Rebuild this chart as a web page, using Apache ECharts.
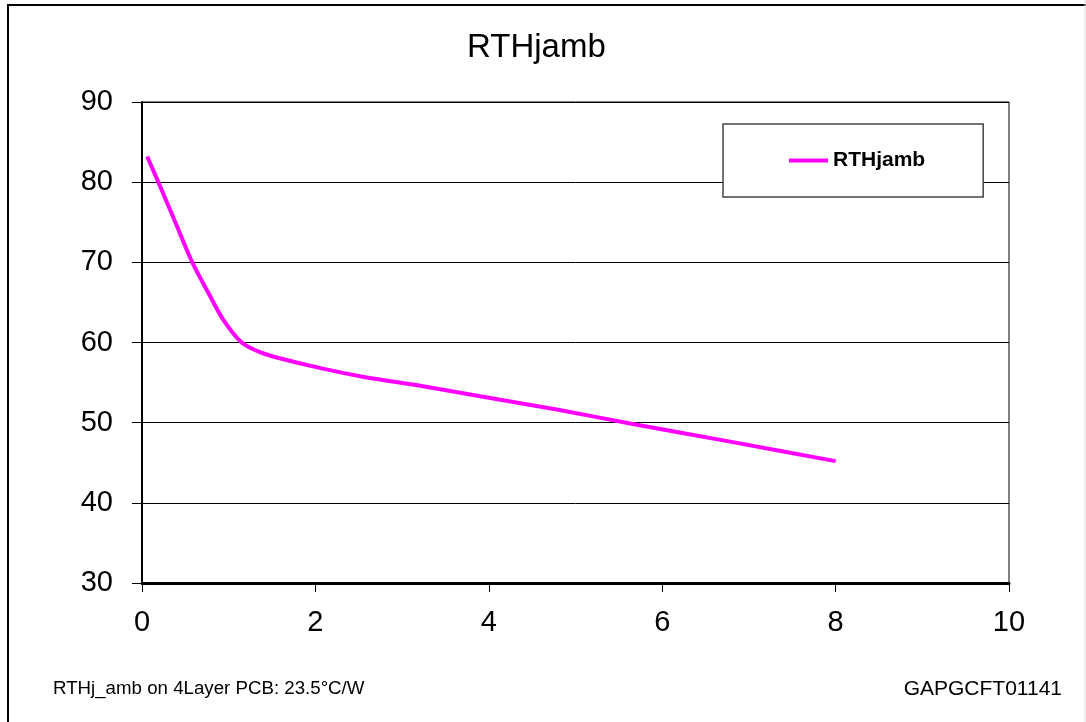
<!DOCTYPE html>
<html>
<head>
<meta charset="utf-8">
<script src="https://cdn.jsdelivr.net/npm/echarts@6/dist/echarts.min.js"></script>
<style>
    html, body { margin: 0; padding: 0; background: #fff; }
    #chart { width: 1086px; height: 722px; }
</style>
</head>
<body>
<div id="chart"></div>
<script>
    // values
    var seriesName = 'RTHjamb';
    var xValues = [0.06, 0.2, 0.4, 0.58, 0.79, 0.94, 1.15, 1.36, 1.6, 2.06, 2.56, 3.21, 3.9, 4.8, 5.63, 6.8, 8];
    var yValues = [83.2, 79.7, 74.6, 70, 65.7, 62.8, 60, 58.8, 58, 56.8, 55.7, 54.6, 53.3, 51.6, 49.9, 47.6, 45.2];
    var noteLeft = 'RTHj_amb on 4Layer PCB: 23.5°C/W';
    var noteRight = 'GAPGCFT01141';

    var chart = echarts.init(document.getElementById('chart'));

    var points = [];
    for (var i = 0; i < xValues.length; i++) {
        points.push([xValues[i], yValues[i]]);
    }

    var font = 'Liberation Sans, Arial, sans-serif';

    var option = {
        backgroundColor: '#fff',
        animation: false,
        title: {
            text: seriesName,
            left: 462,
            top: 26,
            textStyle: {
                fontFamily: font,
                fontSize: 33,
                fontWeight: 'normal',
                color: '#000'
            }
        },
        graphic: [
            {
                type: 'rect',
                shape: {x: 8, y: 5, width: 1200, height: 800},
                style: {fill: 'none', stroke: '#000', lineWidth: 2},
                silent: true
            },
            {
                type: 'line',
                shape: {x1: 1085, y1: 0, x2: 1085, y2: 722},
                style: {stroke: '#ddd', lineWidth: 1},
                silent: true
            },
            {
                type: 'text',
                left: 53,
                top: 679,
                style: {text: noteLeft, font: '18.7px ' + font, fill: '#000'}
            },
            {
                type: 'text',
                right: 24,
                top: 679,
                style: {text: noteRight, font: '21px ' + font, fill: '#000'}
            }
        ],
        legend: {
            data: [seriesName],
            left: 723,
            top: 124,
            icon: 'rect',
            itemWidth: 39,
            itemHeight: 4,
            padding: [26, 58, 26, 66],
            backgroundColor: '#fff',
            borderColor: '#444',
            borderWidth: 1.5,
            borderRadius: 0,
            textStyle: {
                fontFamily: font,
                fontSize: 21,
                fontWeight: 'bold',
                color: '#000'
            }
        },
        grid: {
            left: 142,
            right: 77,
            top: 102,
            bottom: 139,
            show: true,
            borderColor: '#000',
            borderWidth: 1,
            containLabel: false
        },
        xAxis: {
            type: 'value',
            min: 0,
            max: 10,
            interval: 2,
            axisLine: {show: true, onZero: false, lineStyle: {color: '#000', width: 3}},
            axisTick: {show: true, length: 9, lineStyle: {color: '#000', width: 1}},
            axisLabel: {
                margin: 25,
                fontFamily: font,
                fontSize: 29,
                color: '#000'
            },
            splitLine: {show: false}
        },
        yAxis: {
            type: 'value',
            min: 30,
            max: 90,
            interval: 10,
            axisLine: {show: true, onZero: false, lineStyle: {color: '#000', width: 2}},
            axisTick: {show: true, length: 10, lineStyle: {color: '#000', width: 1}},
            axisLabel: {
                margin: 29,
                fontFamily: font,
                fontSize: 29,
                color: '#000'
            },
            splitLine: {show: true, lineStyle: {color: '#000', width: 1}}
        },
        series: [
            {
                name: seriesName,
                type: 'line',
                data: points,
                smooth: 0.3,
                symbol: 'none',
                itemStyle: {color: '#ff00ff'},
                lineStyle: {color: '#ff00ff', width: 4}
            }
        ]
    };

    chart.setOption(option);
</script>
</body>
</html>
